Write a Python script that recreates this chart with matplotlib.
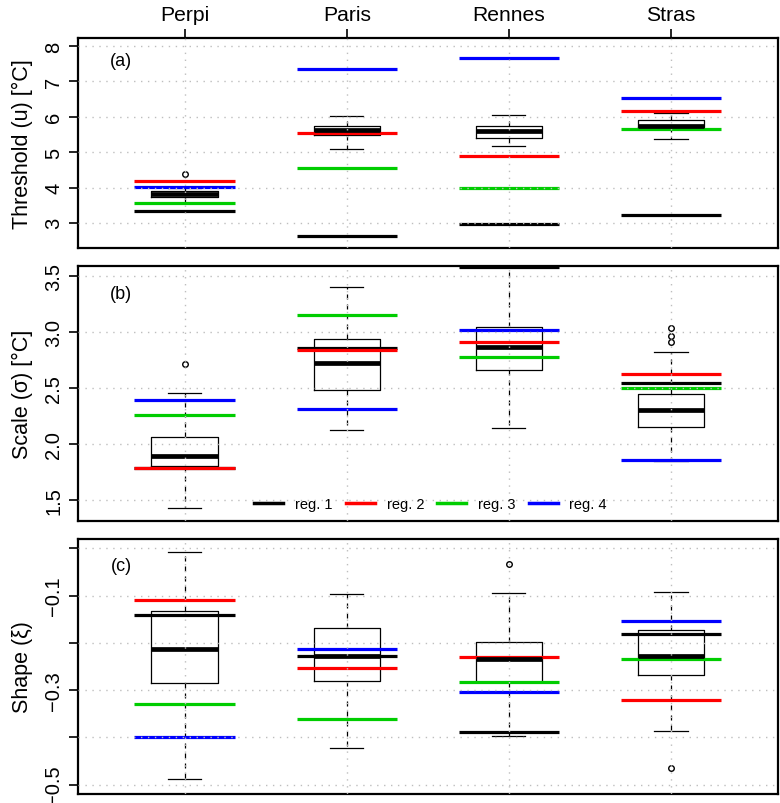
import matplotlib
matplotlib.use("Agg")
import matplotlib.pyplot as plt
from matplotlib.lines import Line2D

plt.rcParams['font.family'] = ['Liberation Sans', 'DejaVu Sans']

sites = ['Perpi', 'Paris', 'Rennes', 'Stras']
regions = ['reg. 1', 'reg. 2', 'reg. 3', 'reg. 4']
reg_colors = ['black', '#FF0000', '#00CD00', '#0000FF']

# (a) threshold
thr_lo = [3.57, 5.09, 5.17, 5.38]
thr_q1 = [3.73, 5.48, 5.40, 5.70]
thr_med = [3.82, 5.62, 5.59, 5.75]
thr_q3 = [3.90, 5.73, 5.73, 5.90]
thr_hi = [3.99, 6.02, 6.05, 6.12]
thr_out = [[4.39], [], [], []]
thr_reg = [[3.34, 2.62, 2.96, 3.23],
           [4.19, 5.54, 4.90, 6.17],
           [3.55, 4.55, 4.00, 5.65],
           [4.02, 7.35, 7.65, 6.54]]

# (b) scale
sc_lo = [1.432, 2.128, 2.146, 1.85]
sc_q1 = [1.80, 2.484, 2.662, 2.152]
sc_med = [1.894, 2.718, 2.864, 2.30]
sc_q3 = [2.066, 2.937, 3.041, 2.442]
sc_hi = [2.457, 3.40, 3.65, 2.816]
sc_out = [[2.715], [], [], [3.035, 2.967, 2.908]]
sc_reg = [[1.785, 2.86, 3.578, 2.546],
          [1.785, 2.837, 2.911, 2.624],
          [2.259, 3.15, 2.777, 2.496],
          [2.392, 2.312, 3.017, 1.853]]

# (c) shape
sh_lo = [-0.489, -0.423, -0.398, -0.387]
sh_q1 = [-0.286, -0.281, -0.283, -0.268]
sh_med = [-0.213, -0.227, -0.235, -0.227]
sh_q3 = [-0.133, -0.169, -0.1985, -0.173]
sh_hi = [-0.007, -0.0975, -0.0946, -0.093]
sh_out = [[], [], [-0.032], [-0.464]]
sh_reg = [[-0.141, -0.227, -0.389, -0.182],
          [-0.1095, -0.254, -0.229, -0.321],
          [-0.330, -0.362, -0.283, -0.2345],
          [-0.399, -0.214, -0.304, -0.153]]

panels = [
    dict(lo=thr_lo, q1=thr_q1, med=thr_med, q3=thr_q3, hi=thr_hi, out=thr_out,
         reg=thr_reg, ylim=(2.5, 8), ticks=[3, 4, 5, 6, 7, 8],
         labels=['3', '4', '5', '6', '7', '8'],
         ylabel='Threshold (u) [°C]', tag='(a)'),
    dict(lo=sc_lo, q1=sc_q1, med=sc_med, q3=sc_q3, hi=sc_hi, out=sc_out,
         reg=sc_reg, ylim=(1.4, 3.5), ticks=[1.5, 2.0, 2.5, 3.0, 3.5],
         labels=['1.5', '2.0', '2.5', '3.0', '3.5'],
         ylabel='Scale (σ) [°C]', tag='(b)'),
    dict(lo=sh_lo, q1=sh_q1, med=sh_med, q3=sh_q3, hi=sh_hi, out=sh_out,
         reg=sh_reg, ylim=(-0.5, 0.0), ticks=[0.0, -0.1, -0.2, -0.3, -0.4, -0.5],
         labels=['', '\u22120.1', '', '\u22120.3', '', '\u22120.5'],
         ylabel='Shape (ξ)', tag='(c)'),
]

fig = plt.figure(figsize=(7.8, 8.04), dpi=100)
left, right = 0.0996, 0.9974
boxes = [(0.6899, 0.9511), (0.3511, 0.6675), (0.0112, 0.3284)]

x = [1, 2, 3, 4]
for k, p in enumerate(panels):
    b0, b1 = boxes[k]
    ax = fig.add_axes([left, b0, right - left, b1 - b0])
    stats = []
    for i in range(4):
        stats.append(dict(whislo=p['lo'][i], q1=p['q1'][i], med=p['med'][i],
                          q3=p['q3'][i], whishi=p['hi'][i], fliers=p['out'][i]))
    ax.bxp(stats, positions=x, widths=0.41, showfliers=True,
           boxprops=dict(color='black', linewidth=0.9),
           medianprops=dict(color='black', linewidth=3.4, solid_capstyle='butt'),
           whiskerprops=dict(color='black', linewidth=0.9, linestyle=(0, (4, 4))),
           capprops=dict(color='black', linewidth=0.9),
           capwidths=0.205,
           flierprops=dict(marker='o', markersize=4, markerfacecolor='none',
                           markeredgecolor='black', markeredgewidth=1.0))
    for r in range(4):
        ax.hlines(p['reg'][r], [xi - 0.31 for xi in x], [xi + 0.31 for xi in x],
                  colors=reg_colors[r], linewidth=2.3)

    lo, hi = p['ylim']
    ext = 0.04 * (hi - lo)
    ax.set_ylim(lo - ext, hi + ext)
    ax.set_xlim(0.5 - 0.16, 4.5 + 0.16)
    ax.set_yticks(p['ticks'])
    ax.set_yticklabels(p['labels'], rotation=90, va='center', fontsize=14.5)
    ax.tick_params(axis='y', direction='out', length=6.5, width=1.2, pad=4)
    ax.set_xticks(x)
    if k == 0:
        ax.xaxis.tick_top()
        ax.set_xticklabels(sites, fontsize=15.2)
        ax.tick_params(axis='x', direction='out', length=6.5, width=1.2, pad=3.5)
    else:
        ax.tick_params(axis='x', length=0, labelbottom=False)
    ax.set_ylabel(p['ylabel'], fontsize=15.5, labelpad=8)
    ax.grid(True, color='#BEBEBE', linestyle=(0, (1, 4)), linewidth=1.0)
    ax.set_axisbelow(False)
    for s in ax.spines.values():
        s.set_linewidth(1.6)
    ax.text(0.062, 0.895, p['tag'], transform=ax.transAxes, fontsize=13,
            ha='center', va='center')
    if k == 1:
        handles = [Line2D([], [], color=c, linewidth=2.5) for c in reg_colors]
        ax.legend(handles, regions, loc='center', bbox_to_anchor=(0.504, 0.066),
                  ncol=4, frameon=False, fontsize=10.5, handlelength=2.0,
                  handletextpad=0.8, columnspacing=0.9, borderpad=0)

fig.savefig('out.png', dpi=100)
